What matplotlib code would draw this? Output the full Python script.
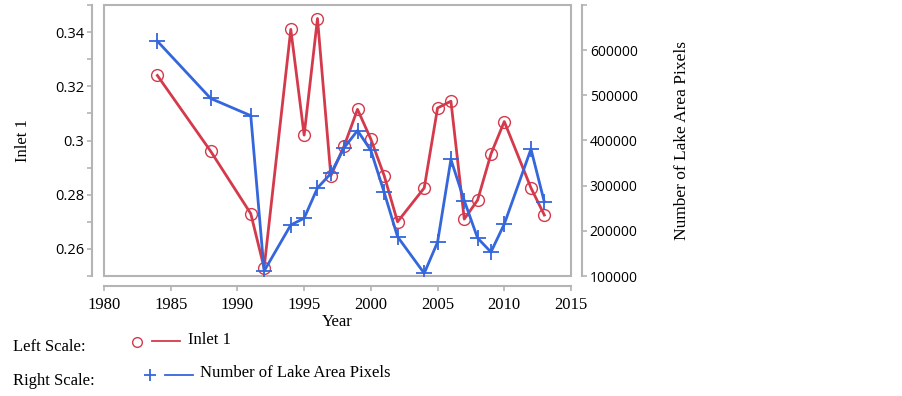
import matplotlib
matplotlib.use("Agg")
import matplotlib.pyplot as plt
from matplotlib.lines import Line2D
from matplotlib.patches import Rectangle
from matplotlib.ticker import MultipleLocator

YEARS = [1984, 1988, 1991, 1992, 1994, 1995, 1996, 1997, 1998, 1999, 2000,
         2001, 2002, 2004, 2005, 2006, 2007, 2008, 2009, 2010, 2012, 2013]
INLET1 = [0.324, 0.296, 0.273, 0.253, 0.341, 0.302, 0.345, 0.287, 0.298,
          0.3115, 0.3005, 0.287, 0.270, 0.2825, 0.312, 0.3145, 0.271, 0.278,
          0.295, 0.307, 0.2825, 0.2725]
LAKE_PIXELS = [620000, 493000, 455000, 111000, 213000, 228000, 295000,
               327000, 384000, 422000, 378000, 285000, 187000, 106000,
               175000, 358000, 267000, 184000, 153000, 215000, 381000, 264000]

X_TICKS = [1980, 1985, 1990, 1995, 2000, 2005, 2010, 2015]
LEFT_TICKS = [0.26, 0.28, 0.30, 0.32, 0.34]
LEFT_LABELS = ["0.26", "0.28", "0.3", "0.32", "0.34"]
RIGHT_TICKS = [100000, 200000, 300000, 400000, 500000, 600000, 700000]
RIGHT_LABELS = ["100000", "200000", "300000", "400000", "500000", "600000", ""]

RED = "#d43a4c"
BLUE = "#3466dc"
GRAY = "#b4b4b4"
SERIF = "Liberation Serif"
SANS = "Open Sans"

W, H = 902, 396
PT = 0.72  # points per pixel at dpi 100
fig = plt.figure(figsize=(W / 100, H / 100), dpi=100)

x0, x1, y0, y1 = 104, 571, 5, 276
ax = fig.add_axes([x0 / W, 1 - y1 / H, (x1 - x0) / W, (y1 - y0) / H])
ax2 = ax.twinx()

ax.plot(YEARS, INLET1, color=RED, lw=2.0, marker="o", ms=8.5,
        mfc="none", mec=RED, mew=1.0, zorder=3)
ax2.plot(YEARS, LAKE_PIXELS, color=BLUE, lw=2.0, marker="+", ms=11,
         mew=1.3, zorder=3)

ax.set_xlim(1980, 2015)
ax.set_ylim(0.25, 0.35)
ax2.set_ylim(100000, 700000)

# plot frame
ax.add_patch(Rectangle((0, 0), 1, 1, transform=ax.transAxes, fill=False,
                       ec=GRAY, lw=1.5, clip_on=False, zorder=5))

for a in (ax, ax2):
    for s in a.spines.values():
        s.set_visible(False)
        s.set_color(GRAY)
        s.set_linewidth(1.5)

ax.spines["left"].set_visible(True)
ax.spines["left"].set_position(("outward", 12 * PT))
ax.spines["bottom"].set_visible(True)
ax.spines["bottom"].set_position(("outward", 10 * PT))
ax2.spines["right"].set_visible(True)
ax2.spines["right"].set_position(("outward", 11 * PT))

ax.set_xticks(X_TICKS)
ax.set_xticklabels([str(x) for x in X_TICKS], fontfamily=SERIF, fontsize=12)
ax.set_yticks(LEFT_TICKS)
ax.set_yticklabels(LEFT_LABELS, fontfamily=SANS, fontsize=10.5)
ax.yaxis.set_minor_locator(MultipleLocator(0.01))
ax2.set_yticks(RIGHT_TICKS)
ax2.set_yticklabels(RIGHT_LABELS, fontfamily=SANS, fontsize=10)

ax.tick_params(axis="both", which="both", color=GRAY, width=1.2,
               length=5 * PT, pad=2)
ax.tick_params(axis="x", pad=4)
ax2.tick_params(axis="y", color=GRAY, width=1.2, length=5 * PT, pad=2)

ax.set_xlabel("Year", fontfamily=SERIF, fontsize=12, labelpad=1)
ax.set_ylabel("Inlet 1", fontfamily=SERIF, fontsize=12, labelpad=17)
ax2.set_ylabel("Number of Lake Area Pixels", fontfamily=SERIF, fontsize=12.5,
               labelpad=26)

# legend drawn by hand in figure pixels
def fx(px):
    return px / W


def fy(py):
    return 1 - py / H


fig.text(fx(13), fy(347), "Left Scale:", fontfamily=SERIF, fontsize=12,
         va="center", ha="left")
fig.text(fx(13), fy(381), "Right Scale:", fontfamily=SERIF, fontsize=12,
         va="center", ha="left")
fig.add_artist(Line2D([fx(137)], [fy(342)], marker="o", ms=7, mfc="none",
                      mec=RED, mew=1.0, transform=fig.transFigure))
fig.add_artist(Line2D([fx(152), fx(180)], [fy(341), fy(341)], color=RED,
                      lw=1.3, transform=fig.transFigure))
fig.text(fx(188), fy(340), "Inlet 1", fontfamily=SERIF, fontsize=12,
         va="center", ha="left")
fig.add_artist(Line2D([fx(150)], [fy(375)], marker="+", ms=9, mec=BLUE,
                      mew=1.3, transform=fig.transFigure))
fig.add_artist(Line2D([fx(165), fx(193)], [fy(375), fy(375)], color=BLUE,
                      lw=1.3, transform=fig.transFigure))
fig.text(fx(200), fy(373), "Number of Lake Area Pixels", fontfamily=SERIF,
         fontsize=12, va="center", ha="left")

fig.savefig("out.png", dpi=100)
